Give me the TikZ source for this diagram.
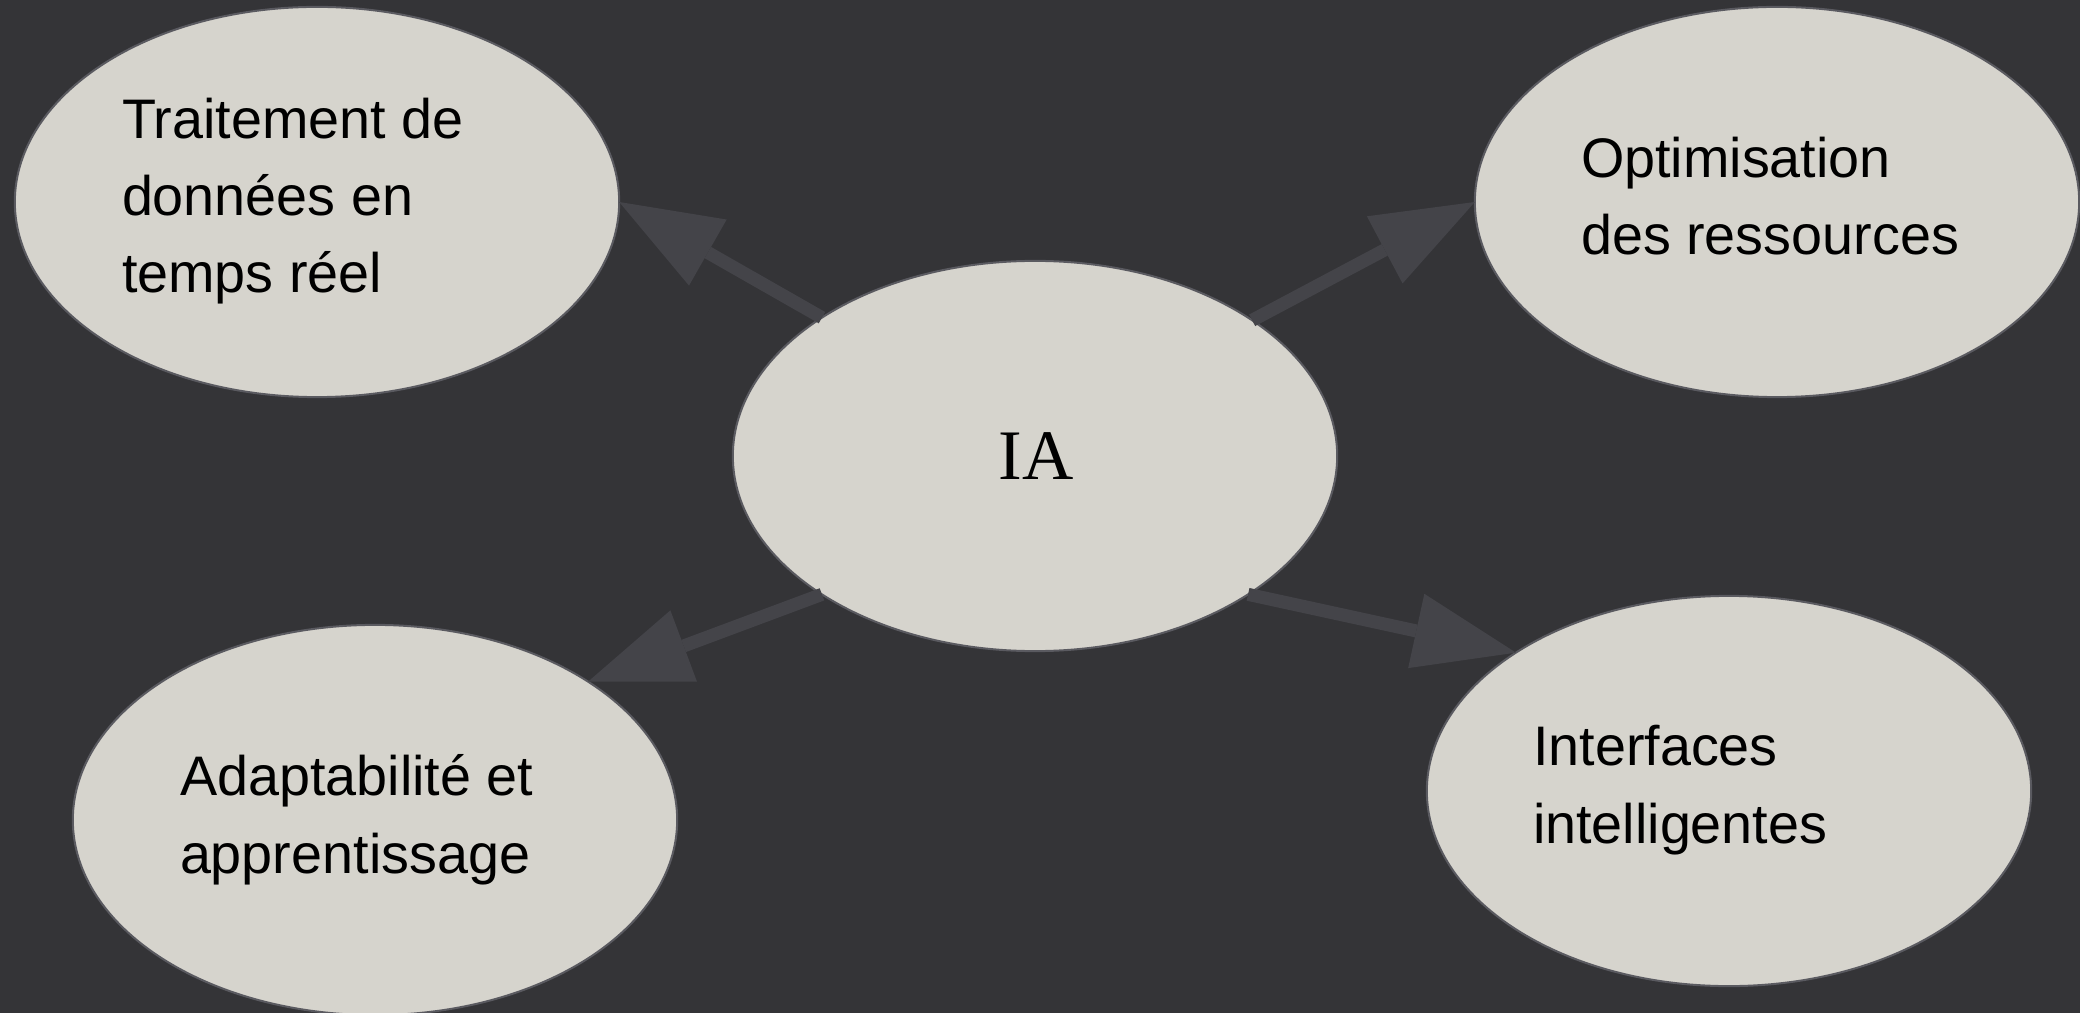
\documentclass[tikz,border=0pt]{standalone}
\usepackage{fontspec}
\setmainfont{Liberation Sans}
\newfontfamily\iafont{Liberation Serif}
\usetikzlibrary{shapes.geometric,arrows.meta}
\definecolor{bgc}{HTML}{343437}
\definecolor{ellfill}{HTML}{D6D4CD}
\definecolor{ellline}{HTML}{5A5A60}
\definecolor{arrc}{HTML}{444449}
\tikzset{
  bubble/.style={ellipse, draw=ellline, line width=0.02cm, fill=ellfill,
    minimum width=6.04cm, minimum height=3.90cm, inner sep=0pt, outer sep=0pt},
  label text/.style={anchor=base west, inner sep=0pt, outer sep=0pt, align=left,
    font=\fontsize{15.85pt}{21.9pt}\selectfont, text=black},
  link/.style={draw=arrc, line width=0.13cm,
    -{Triangle[length=1.02cm, width=0.76cm, line width=0pt]}, arrc}
}
\begin{document}
\begin{tikzpicture}[x=0.01cm, y=-0.01cm]
\path[use as bounding box, fill=bgc] (0,0) rectangle (2080,1013);
\node[bubble] (tl) at (317,202) {};
\node[bubble] (tr) at (1777,202) {};
\node[bubble] (c) at (1035,456) {};
\node[bubble] (bl) at (375,820) {};
\node[bubble] (br) at (1729,791) {};
% base anchor of a multi-line node is the baseline of its last line
\node[label text] (tltxt) at (122,293) {Traitement de\\données en\\temps réel};
\node[label text] (trtxt) at (1581,255) {Optimisation\\des ressources};
\node[label text] (bltxt) at (180,873) {Adaptabilité et\\apprentissage};
\node[label text] (brtxt) at (1533,843) {Interfaces\\intelligentes};
\node[anchor=base, inner sep=0pt, font=\iafont\fontsize{20.2pt}{24pt}\selectfont] (ia) at (1036,480) {IA};
\draw[link] (c.147.3) -- (tl.east);
\draw[link] (c.32.7) -- (tr.west);
\draw[link] (c.213.4) -- (bl.33.1);
\draw[link] (c.-33) -- (br.147);
\end{tikzpicture}
\end{document}
